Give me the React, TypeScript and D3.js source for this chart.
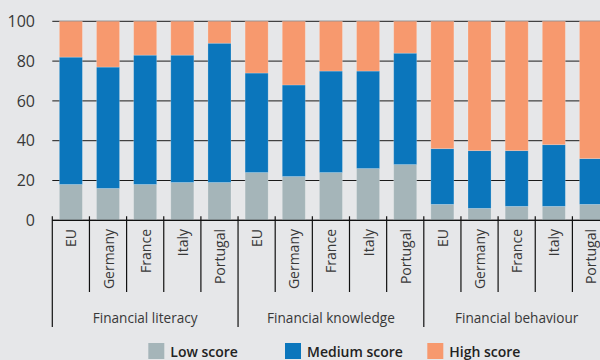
import React from "react";
import * as d3 from "d3";

const groups = ["Financial literacy", "Financial knowledge", "Financial behaviour"];
const countries = ["EU", "Germany", "France", "Italy", "Portugal"];
const seriesNames = ["Low score", "Medium score", "High score"];
const seriesColors = ["#a5b5b9", "#0b76bc", "#f7996e"];

// share of respondents with a low score, per group then per country
const lowScore = [
  [18, 16, 18, 19, 19],
  [24, 22, 24, 26, 28],
  [8, 6, 7, 7, 8],
];
// share with a medium score
const mediumScore = [
  [64, 61, 65, 64, 70],
  [50, 46, 51, 49, 56],
  [28, 29, 28, 31, 23],
];
// share with a high score
const highScore = [
  [18, 23, 17, 17, 11],
  [26, 32, 25, 25, 16],
  [64, 65, 65, 62, 69],
];
const yTicks = [0, 20, 40, 60, 80, 100];

const W = 600;
const H = 360;
const FONT = "'Open Sans', 'Noto Sans', sans-serif";
const TEXT = "#383838";

export default function App() {
  const rows = groups.flatMap((g, gi) =>
    countries.map((c, ci) => ({
      key: `${gi}-${c}`,
      group: gi,
      country: c,
      low: lowScore[gi][ci],
      medium: mediumScore[gi][ci],
      high: highScore[gi][ci],
    }))
  );

  const left = 52.3;
  const step = 37.15;
  const x = d3
    .scaleBand<string>()
    .domain(rows.map((r) => r.key))
    .range([left, left + step * rows.length])
    .paddingInner(0.38)
    .paddingOuter(0.19);
  const y = d3.scaleLinear().domain([0, 100]).range([220.3, 21.3]);

  const stack = d3.stack<any>().keys(["low", "medium", "high"]);
  const layers = stack(rows);

  const axisY = y(0);
  const sepBottom = 292;
  const groupBottom = 327;

  return (
    <svg
      width={W}
      height={H}
      style={{ position: "absolute", left: 0, top: 0, background: "#e6e7e9" }}
      fontFamily={FONT}
    >
      <rect x={0} y={0} width={W} height={H} fill="#e6e7e9" />
      {/* horizontal gridlines */}
      {yTicks.map((t) => (
        <g key={t}>
          <line x1={left} x2={W} y1={y(t)} y2={y(t)} stroke="#1a1a1a" strokeWidth={1} />
          <text
            x={35}
            y={y(t)}
            dy="0.36em"
            textAnchor="end"
            fontSize={16}
            fill={TEXT}
          >
            {t}
          </text>
        </g>
      ))}
      {/* stacked bars */}
      {layers.map((layer, li) =>
        layer.map((d) => (
          <rect
            key={`${li}-${d.data.key}`}
            x={x(d.data.key)}
            y={y(d[1])}
            width={x.bandwidth()}
            height={y(d[0]) - y(d[1])}
            fill={seriesColors[li]}
            stroke="#ffffff"
            strokeOpacity={0.25}
            strokeWidth={0.8}
          />
        ))
      )}
      {/* category axis */}
      <line x1={left} x2={W} y1={axisY} y2={axisY} stroke="#111" strokeWidth={1.2} />
      {rows.map((r, i) => {
        const x0 = left + step * i;
        const isGroupStart = i % countries.length === 0;
        return (
          <line
            key={`sep-${r.key}`}
            x1={x0}
            x2={x0}
            y1={axisY - 4}
            y2={isGroupStart ? groupBottom : sepBottom}
            stroke="#111"
            strokeWidth={1.2}
          />
        );
      })}
      <line
        x1={left + step * rows.length}
        x2={left + step * rows.length}
        y1={axisY - 4}
        y2={groupBottom}
        stroke="#111"
        strokeWidth={1.2}
      />
      {rows.map((r) => {
        const cx = (x(r.key) as number) + x.bandwidth() / 2;
        return (
          <text
            key={`lbl-${r.key}`}
            transform={`translate(${cx},229) rotate(-90)`}
            textAnchor="end"
            dominantBaseline="central"
            fontSize={14}
            fill={TEXT}
          >
            {r.country}
          </text>
        );
      })}
      {groups.map((g, gi) => {
        const cx = left + step * countries.length * (gi + 0.5);
        return (
          <text
            key={g}
            x={cx}
            y={317}
            textAnchor="middle"
            dominantBaseline="central"
            fontSize={13.6}
            fill={TEXT}
          >
            {g}
          </text>
        );
      })}
      {/* legend */}
      {seriesNames.map((s, i) => {
        const lx = [148.3, 285, 427.3][i];
        return (
          <g key={s}>
            <rect x={lx} y={343} width={16} height={16} fill={seriesColors[i]} />
            <text x={lx + 22} y={357} fontSize={14} fontWeight={600} fill="#222">
              {s}
            </text>
          </g>
        );
      })}
    </svg>
  );
}
